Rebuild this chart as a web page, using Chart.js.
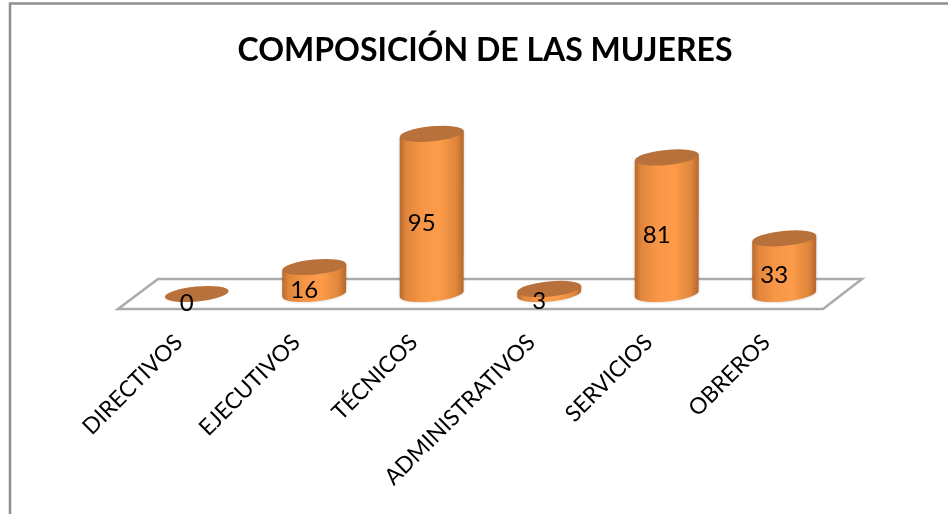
<!DOCTYPE html>
<html>
<head>
<meta charset="utf-8">
<style>html,body{margin:0;padding:0;background:#fff}#wrap{width:948px;height:514px}</style>
<script src="https://cdn.jsdelivr.net/npm/chart.js@4"></script>
</head>
<body>
<div id="wrap"><canvas id="c" width="948" height="514"></canvas></div>
<script>
const categories = ["DIRECTIVOS","EJECUTIVOS","TÉCNICOS","ADMINISTRATIVOS","SERVICIOS","OBREROS"];
const mujeres = [0,16,95,3,81,33];
const chartTitle = "COMPOSICIÓN DE LAS MUJERES";

const ROT = -5.5 * Math.PI / 180;

const cylinders = {
  id: 'cylinders',
  beforeDraw(chart) {
    const { ctx, width, height, chartArea: a } = chart;
    ctx.save();
    ctx.fillStyle = '#fff';
    ctx.fillRect(0, 0, width, height);
    // outer frame: only the top and left edges fall inside the picture
    ctx.strokeStyle = '#8f8f8f';
    ctx.lineWidth = 2.5;
    ctx.beginPath();
    ctx.moveTo(10, height);
    ctx.lineTo(10, 3.5);
    ctx.lineTo(width, 3.5);
    ctx.stroke();
    // floor
    ctx.strokeStyle = '#ababab';
    ctx.lineWidth = 2.5;
    ctx.beginPath();
    ctx.moveTo(a.left - 20, a.bottom + 15);
    ctx.lineTo(a.left + 20, a.bottom - 15);
    ctx.lineTo(a.right + 19, a.bottom - 15);
    ctx.lineTo(a.right - 20, a.bottom + 15);
    ctx.closePath();
    ctx.stroke();
    ctx.restore();
  },
  beforeDatasetDraw(chart, args) {
    const { ctx } = chart;
    const meta = chart.getDatasetMeta(args.index);
    meta.data.forEach((bar, i) => {
      const rx = bar.width / 2, ry = 7.5;
      const x = bar.x, top = bar.y, base = bar.base;
      const dy = rx * Math.sin(-ROT);
      ctx.save();
      ctx.shadowColor = 'rgba(0,0,0,0.2)';
      ctx.shadowBlur = 3;
      if (mujeres[i] > 0) {
        const g = ctx.createLinearGradient(x - rx, 0, x + rx, 0);
        g.addColorStop(0, '#b8692e');
        g.addColorStop(0.1, '#e0863b');
        g.addColorStop(0.35, '#f79646');
        g.addColorStop(0.62, '#fc9b4a');
        g.addColorStop(0.88, '#e0863b');
        g.addColorStop(1, '#b4672d');
        ctx.fillStyle = g;
        ctx.beginPath();
        ctx.moveTo(x - rx, top + dy);
        ctx.lineTo(x - rx, base + dy);
        ctx.ellipse(x, base, rx, ry, ROT, Math.PI, 0, true);
        ctx.lineTo(x + rx, top - dy);
        ctx.closePath();
        ctx.fill();
      }
      ctx.shadowColor = 'transparent';
      ctx.fillStyle = '#b8713a';
      ctx.beginPath();
      ctx.ellipse(x, top, rx, ry, ROT, 0, Math.PI * 2);
      ctx.fill();
      ctx.restore();
    });
    return false;
  },
  afterDatasetsDraw(chart) {
    const { ctx } = chart;
    const meta = chart.getDatasetMeta(0);
    ctx.save();
    ctx.fillStyle = '#000';
    ctx.font = '24px Lato';
    ctx.textAlign = 'center';
    ctx.textBaseline = 'middle';
    meta.data.forEach((bar, i) => {
      ctx.fillText(String(mujeres[i]), bar.x - 10, (bar.y + bar.base) / 2 + 9.5);
    });
    ctx.restore();
  }
};

new Chart(document.getElementById('c'), {
  type: 'bar',
  data: {
    labels: categories,
    datasets: [{ label: 'Mujeres', data: mujeres, backgroundColor: '#f79646', barPercentage: 0.545, categoryPercentage: 1 }]
  },
  options: {
    responsive: false,
    animation: false,
    layout: { autoPadding: false, padding: { left: 127, right: 105, top: 0, bottom: 0 } },
    plugins: {
      legend: { display: false },
      tooltip: { enabled: false },
      title: {
        display: true,
        text: chartTitle,
        color: '#000',
        font: { family: 'Lato', size: 32, weight: 'bold', lineHeight: 1.2 },
        padding: { top: 31, bottom: 56 }
      }
    },
    scales: {
      x: {
        grid: { display: false, drawTicks: false },
        border: { display: false },
        afterFit(s) { s.height = 220; },
        ticks: {
          autoSkip: false,
          maxRotation: 45,
          minRotation: 45,
          padding: 35,
          labelOffset: -18,
          color: '#000',
          font: { family: 'Lato', size: 22.6 }
        }
      },
      y: {
        min: 0,
        max: 100,
        grid: { display: false, drawTicks: false },
        border: { display: false },
        afterFit(s) { s.width = 11; },
        ticks: { display: false }
      }
    }
  },
  plugins: [cylinders]
});
</script>
</body>
</html>
